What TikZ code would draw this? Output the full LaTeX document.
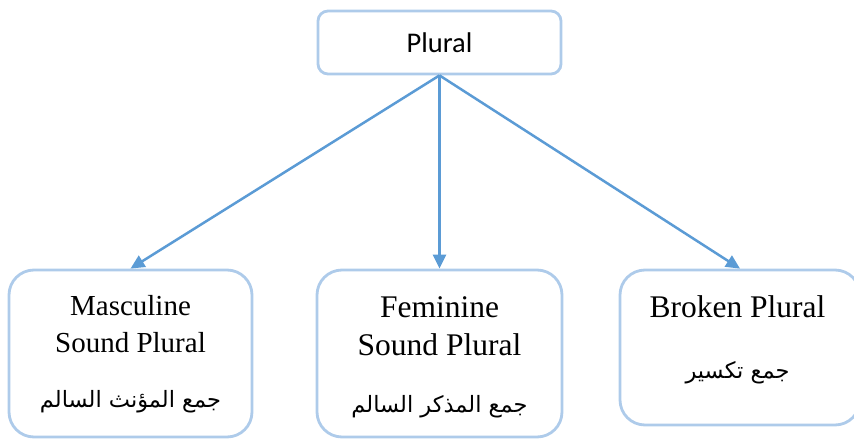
\documentclass[tikz,border=0pt]{standalone}
\usepackage{fontspec}
\setmainfont{Liberation Serif}
\newfontfamily\labelfont{Carlito}
\newfontfamily\arabicfont[Script=Arabic]{DejaVu Sans}
\TeXXeTstate=1
\usetikzlibrary{arrows.meta}

\definecolor{boxline}{HTML}{AECBEA}
\definecolor{arrowline}{HTML}{5B9BD5}

\tikzset{
  catbox/.style={draw=boxline, line width=2.8pt, fill=white, inner sep=0pt},
  link/.style={draw=arrowline, line width=2.5pt, -{Triangle[length=14pt,width=13pt]}},
  entext/.style={anchor=base, inner sep=0pt},
  artext/.style={anchor=base, inner sep=0pt, font=\arabicfont\fontsize{22.5}{26}\selectfont},
}

\begin{document}
\begin{tikzpicture}[x=1pt,y=-1pt]
  \useasboundingbox (0,0) rectangle (854,439);
  \clip (0,0) rectangle (854,439);

  % top category
  \node[catbox, rounded corners=10pt, minimum width=243pt, minimum height=63pt] (plural) at (439.5,42.5) {};
  \node[entext, font=\labelfont\fontsize{28.5}{32}\selectfont] (pluraltxt) at (439.5,52) {Plural};

  % the three kinds of plural
  \node[catbox, rounded corners=25pt, minimum width=243pt, minimum height=167pt] (msp) at (130.5,353.5) {};
  \node[catbox, rounded corners=25pt, minimum width=245pt, minimum height=167pt] (fsp) at (439.5,353.5) {};
  \node[catbox, rounded corners=25pt, minimum width=240pt, minimum height=155pt] (bp) at (740,347.5) {};

  % masculine sound plural
  \node[entext, font=\fontsize{29}{33}\selectfont] (msp1) at (130.5,315) {Masculine};
  \node[entext, font=\fontsize{29}{33}\selectfont] (msp2) at (130.5,352) {Sound Plural};
  \node[artext] (msp3) at (130.5,407) {\beginR جمع المؤنث السالم\endR};

  % feminine sound plural
  \node[entext, font=\fontsize{31.5}{36}\selectfont] (fsp1) at (439.5,317) {Feminine};
  \node[entext, font=\fontsize{31.5}{36}\selectfont] (fsp2) at (439.5,355) {Sound Plural};
  \node[artext] (fsp3) at (439.5,412) {\beginR جمع المذكر السالم\endR};

  % broken plural
  \node[entext, font=\fontsize{31.5}{36}\selectfont] (bp1) at (737.5,317) {Broken Plural};
  \node[artext] (bp2) at (737.5,378) {\beginR جمع تكسير\endR};

  % connectors
  \draw[link] (plural.south) -- (msp.north);
  \draw[link] (plural.south) -- (fsp.north);
  \draw[link] (plural.south) -- (bp.north);
\end{tikzpicture}
\end{document}
